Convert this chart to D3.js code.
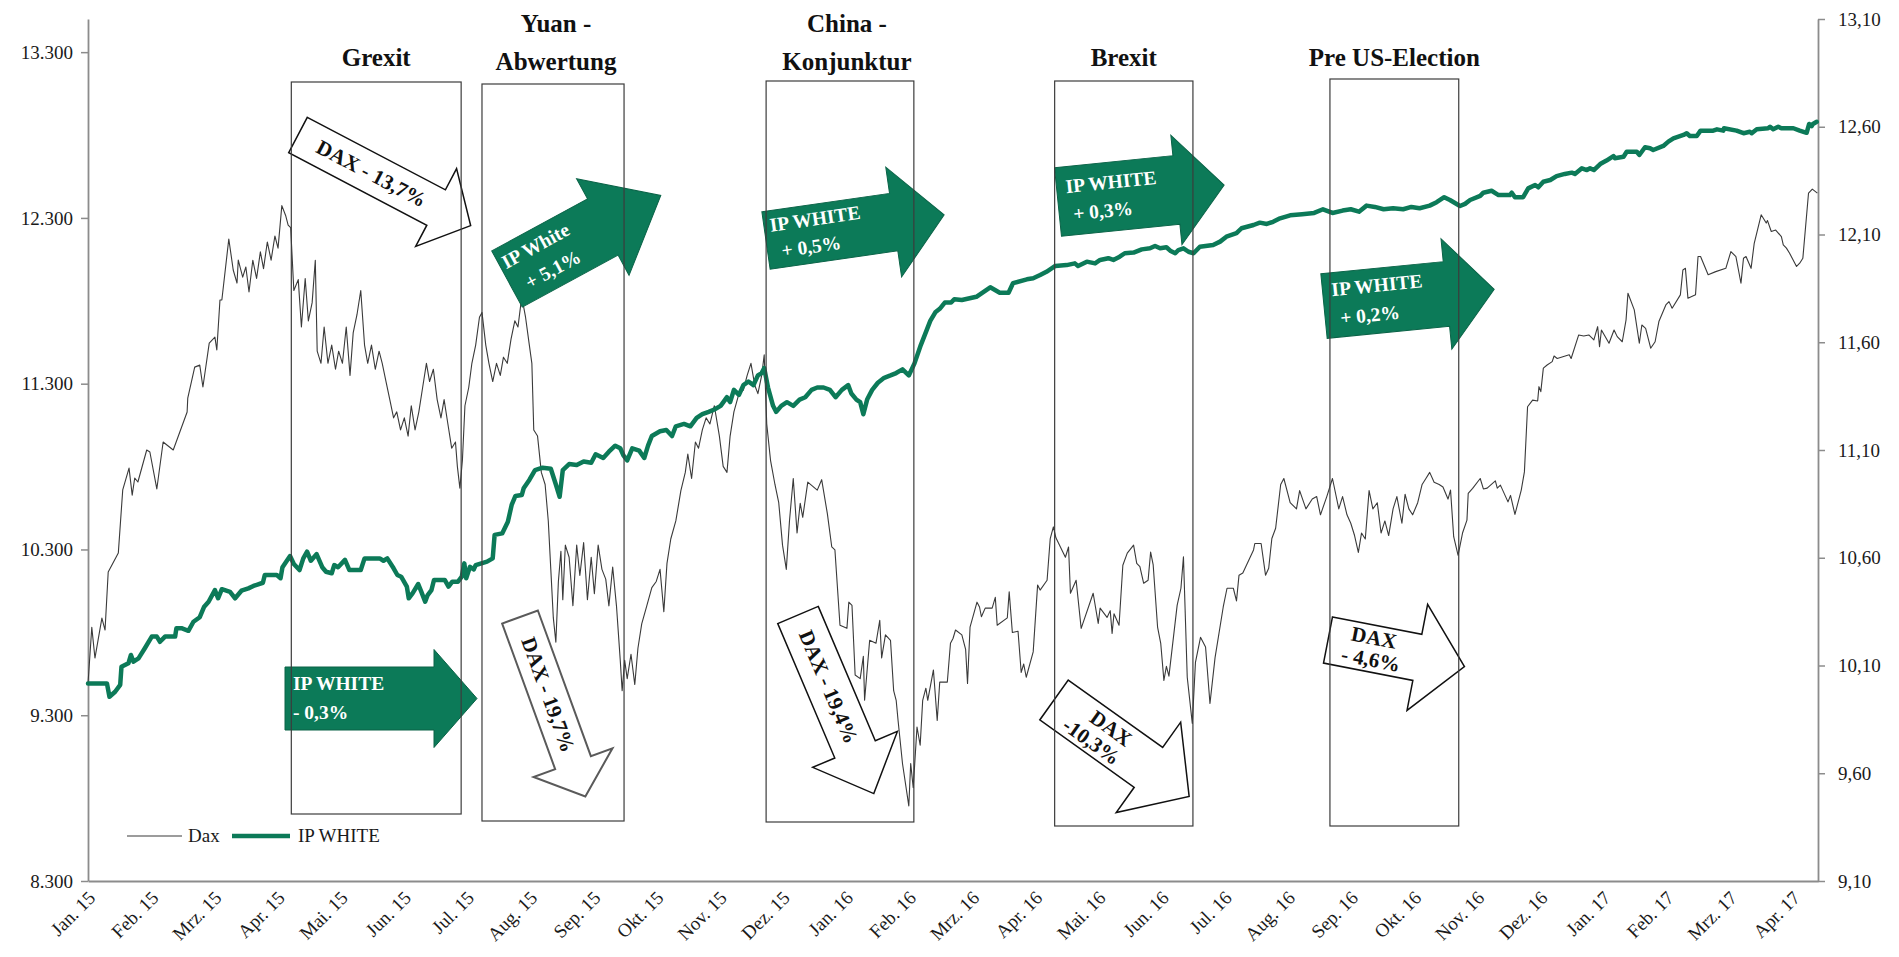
<!DOCTYPE html>
<html><head><meta charset="utf-8">
<script src="https://cdn.jsdelivr.net/npm/d3@7"></script>
<style>
html,body{margin:0;padding:0;background:#fff;}
svg{display:block;font-family:"Liberation Serif","Times New Roman",serif;}
</style>
</head><body>
<svg id="chart" width="1899" height="957"></svg>
<script>
// ---------- DATA ----------
const monthLabels = ["Jan. 15","Feb. 15","Mrz. 15","Apr. 15","Mai. 15","Jun. 15","Jul. 15","Aug. 15","Sep. 15","Okt. 15","Nov. 15","Dez. 15","Jan. 16","Feb. 16","Mrz. 16","Apr. 16","Mai. 16","Jun. 16","Jul. 16","Aug. 16","Sep. 16","Okt. 16","Nov. 16","Dez. 16","Jan. 17","Feb. 17","Mrz. 17","Apr. 17"];
const leftTicks = [8300, 9300, 10300, 11300, 12300, 13300];
const rightTicks = [9.1, 9.6, 10.1, 10.6, 11.1, 11.6, 12.1, 12.6, 13.1];
const seriesNames = ["Dax", "IP WHITE"];

// time in months since 1 Jan 2015 (axis position), DAX points
const daxT = [0.00,0.06,0.11,0.22,0.27,0.32,0.48,0.55,0.65,0.70,0.74,0.79,0.93,0.98,1.09,1.19,1.35,1.57,1.58,1.69,1.77,1.82,1.92,2.01,2.04,2.09,2.12,2.23,2.30,2.36,2.38,2.45,2.50,2.55,2.61,2.67,2.73,2.78,2.84,2.90,2.96,3.01,3.07,3.13,3.17,3.21,3.26,3.33,3.38,3.44,3.49,3.55,3.60,3.63,3.69,3.74,3.80,3.86,3.92,3.97,4.03,4.09,4.15,4.20,4.26,4.32,4.38,4.43,4.49,4.55,4.61,4.66,4.72,4.78,4.84,4.89,4.95,5.01,5.07,5.12,5.18,5.24,5.30,5.36,5.41,5.47,5.53,5.59,5.64,5.70,5.76,5.82,5.85,5.89,5.93,5.97,6.03,6.08,6.14,6.20,6.24,6.30,6.35,6.41,6.47,6.53,6.58,6.64,6.70,6.76,6.81,6.87,6.93,6.99,7.03,7.06,7.12,7.18,7.24,7.29,7.33,7.37,7.41,7.45,7.49,7.52,7.56,7.62,7.68,7.74,7.79,7.85,7.91,7.97,8.02,8.08,8.14,8.20,8.25,8.31,8.37,8.43,8.46,8.50,8.54,8.60,8.66,8.71,8.77,8.85,8.93,9.00,9.06,9.12,9.17,9.23,9.31,9.39,9.46,9.50,9.56,9.62,9.67,9.73,9.79,9.85,9.92,10.00,10.06,10.12,10.17,10.23,10.31,10.38,10.44,10.50,10.56,10.61,10.67,10.71,10.75,10.81,10.88,10.94,11.00,11.06,11.11,11.17,11.23,11.28,11.32,11.40,11.55,11.62,11.71,11.78,11.83,11.91,12.02,12.05,12.10,12.15,12.23,12.28,12.30,12.38,12.48,12.54,12.57,12.63,12.71,12.76,12.80,12.83,12.90,13.00,13.03,13.07,13.13,13.18,13.22,13.27,13.30,13.39,13.45,13.49,13.61,13.66,13.70,13.74,13.84,13.90,13.93,13.97,14.08,14.12,14.15,14.21,14.32,14.37,14.40,14.56,14.59,14.64,14.73,14.78,14.82,14.86,14.97,15.04,15.08,15.19,15.24,15.29,15.33,15.48,15.53,15.56,15.65,15.73,15.92,16.00,16.03,16.14,16.19,16.22,16.25,16.33,16.39,16.46,16.56,16.61,16.66,16.72,16.79,16.83,16.87,16.94,16.99,17.04,17.08,17.12,17.25,17.31,17.35,17.41,17.49,17.54,17.62,17.70,17.77,17.85,17.98,18.04,18.14,18.19,18.23,18.29,18.46,18.48,18.58,18.65,18.70,18.75,18.81,18.89,18.94,19.04,19.14,19.19,19.29,19.39,19.46,19.52,19.62,19.71,19.81,19.87,19.94,20.00,20.06,20.12,20.17,20.23,20.29,20.35,20.42,20.48,20.54,20.60,20.67,20.73,20.81,20.86,20.92,20.98,21.06,21.13,21.19,21.25,21.32,21.40,21.46,21.54,21.58,21.63,21.70,21.77,21.84,21.86,21.93,22.05,22.10,22.16,22.29,22.32,22.37,22.49,22.53,22.60,22.70,22.75,22.80,22.88,22.96,22.98,23.01,23.05,23.11,23.19,23.22,23.27,23.46,23.49,23.61,23.69,23.77,23.85,23.91,23.94,23.97,24.09,24.17,24.22,24.30,24.36,24.39,24.49,24.57,24.61,24.67,24.75,24.82,24.88,24.99,25.04,25.09,25.22,25.26,25.30,25.34,25.46,25.50,25.54,25.66,25.78,25.94,26.02,26.10,26.18,26.22,26.26,26.34,26.39,26.50,26.58,26.60,26.66,26.73,26.82,26.85,26.90,26.95,27.06,27.11,27.16,27.25,27.31,27.39];
const daxV = [9490,9830,9645,9886,9814,10164,10278,10659,10791,10628,10731,10707,10900,10888,10665,10948,10900,11129,11213,11400,11412,11280,11545,11581,11503,11805,11805,12173,11986,11907,12046,11943,12004,11853,12045,11935,12096,11994,12155,12045,12191,12118,12374,12315,12257,12242,11862,11928,11642,11935,11679,11789,12045,11496,11423,11642,11423,11533,11387,11496,11423,11642,11350,11606,11716,11862,11533,11423,11533,11387,11496,11423,11313,11204,11094,11130,11021,11094,10984,11167,11021,11130,11277,11423,11313,11387,11204,11094,11204,11057,10911,10948,10801,10670,10838,11167,11277,11423,11533,11701,11730,11533,11423,11313,11423,11350,11460,11423,11569,11679,11642,11825,11701,11533,11423,11021,10984,10765,10692,10472,10180,9887,9741,10107,10289,9997,10326,10253,9960,10326,10143,10341,9997,10253,10033,10326,10180,10121,9960,10194,9960,9631,9448,9631,9521,9668,9485,9704,9851,9960,10070,10107,10180,9924,10216,10363,10472,10655,10765,10875,10728,10948,10911,11021,11094,11057,11167,10984,10801,10765,10984,11130,11240,11262,11350,11423,11291,11240,11350,11474,11057,10838,10692,10582,10326,10180,10472,10728,10399,10579,10494,10706,10658,10721,10516,10315,10297,9843,9824,9982,9963,9543,9521,9655,9390,9752,9734,9873,9646,9785,9752,9448,9390,9268,9009,8753,9009,8863,9229,9119,9390,9463,9390,9573,9268,9500,9500,9734,9763,9814,9785,9697,9492,9831,9982,9953,9894,9946,9946,10011,9843,9887,10044,9799,9807,9558,9609,9529,9682,10085,10055,10114,10366,10436,10370,10253,10315,10036,10114,9824,10036,9854,9946,9890,9931,9794,9912,9843,10205,10278,10326,10216,10197,10096,10114,10284,10209,9832,9734,9510,9595,9536,9963,10066,10256,9529,9251,9619,9770,9712,9371,9646,9953,10066,10066,9990,10145,10158,10297,10336,10336,10145,10187,10366,10428,10692,10728,10582,10545,10655,10545,10604,10619,10509,10619,10728,10545,10619,10509,10458,10384,10282,10399,10363,10655,10545,10582,10399,10472,10384,10545,10619,10458,10633,10545,10509,10582,10692,10728,10765,10706,10692,10677,10604,10658,10377,10265,10399,10477,10638,10668,10728,10665,10670,10714,10670,10688,10587,10626,10511,10658,10768,11161,11201,11196,11282,11252,11394,11413,11433,11467,11452,11474,11452,11594,11588,11594,11564,11644,11523,11624,11544,11624,11584,11553,11685,11846,11745,11544,11654,11634,11514,11553,11675,11775,11795,11755,11836,11986,11996,11816,11836,12067,12067,11957,11976,11996,12097,12067,11906,12057,12067,11996,12147,12319,12269,12284,12218,12227,12187,12138,12118,12087,12007,12027,12057,12450,12474,12450];

// IP WHITE points (right axis)
const ipT = [0.00,0.30,0.34,0.43,0.51,0.53,0.64,0.68,0.72,0.80,0.90,1.01,1.09,1.14,1.22,1.38,1.40,1.48,1.59,1.67,1.77,1.84,1.91,2.01,2.06,2.12,2.25,2.33,2.43,2.54,2.62,2.77,2.80,2.99,3.05,3.08,3.20,3.26,3.35,3.41,3.47,3.53,3.62,3.71,3.77,3.86,3.90,3.96,4.07,4.14,4.32,4.38,4.62,4.68,4.74,4.84,4.90,4.96,5.05,5.08,5.14,5.23,5.28,5.34,5.38,5.44,5.48,5.65,5.71,5.77,5.86,5.92,5.96,5.99,6.05,6.11,6.14,6.32,6.41,6.44,6.56,6.65,6.71,6.77,6.87,6.90,6.99,7.08,7.20,7.33,7.41,7.47,7.52,7.62,7.74,7.85,7.97,8.04,8.16,8.25,8.35,8.43,8.48,8.54,8.62,8.73,8.81,8.87,8.93,9.06,9.16,9.25,9.31,9.44,9.54,9.64,9.73,9.83,9.92,10.02,10.12,10.17,10.23,10.31,10.38,10.46,10.54,10.61,10.67,10.71,10.77,10.85,10.90,10.98,11.07,11.17,11.27,11.36,11.46,11.55,11.65,11.75,11.84,11.94,12.04,12.09,12.17,12.23,12.28,12.34,12.42,12.51,12.61,12.71,12.80,12.90,13.00,13.09,13.19,13.28,13.34,13.42,13.49,13.57,13.67,13.72,13.84,14.07,14.29,14.44,14.58,14.65,14.87,14.97,15.08,15.18,15.32,15.50,15.63,15.68,15.82,15.95,16.03,16.16,16.24,16.34,16.42,16.56,16.69,16.82,16.90,16.98,17.08,17.14,17.22,17.27,17.35,17.43,17.51,17.61,17.82,17.93,18.03,18.19,18.27,18.46,18.56,18.67,18.77,18.88,19.04,19.23,19.42,19.56,19.71,19.87,20.00,20.13,20.25,20.38,20.52,20.67,20.83,20.96,21.09,21.25,21.36,21.48,21.57,21.73,21.81,21.89,22.05,22.10,22.23,22.34,22.52,22.55,22.60,22.73,22.81,22.92,22.97,23.05,23.16,23.26,23.39,23.50,23.55,23.66,23.74,23.79,23.85,23.95,24.05,24.16,24.18,24.32,24.37,24.53,24.57,24.66,24.74,24.79,24.95,25.03,25.11,25.27,25.32,25.37,25.48,25.54,25.74,25.80,25.90,25.91,26.11,26.22,26.32,26.35,26.43,26.61,26.64,26.69,26.77,26.82,27.01,27.11,27.22,27.26,27.30,27.32,27.38];
const ipV = [10.017,10.017,9.955,9.978,10.010,10.094,10.110,10.149,10.118,10.133,10.180,10.234,10.234,10.210,10.234,10.234,10.273,10.273,10.261,10.303,10.324,10.373,10.396,10.450,10.412,10.454,10.442,10.412,10.447,10.458,10.469,10.484,10.520,10.520,10.505,10.556,10.608,10.571,10.543,10.597,10.628,10.586,10.617,10.556,10.535,10.528,10.566,10.556,10.590,10.543,10.543,10.597,10.597,10.586,10.597,10.551,10.520,10.512,10.466,10.412,10.435,10.478,10.442,10.396,10.427,10.450,10.497,10.497,10.466,10.489,10.489,10.512,10.574,10.505,10.558,10.546,10.566,10.582,10.597,10.706,10.713,10.767,10.845,10.887,10.891,10.922,10.961,11.007,11.018,11.013,10.940,10.883,11.007,11.035,11.030,11.047,11.041,11.080,11.063,11.092,11.120,11.108,11.075,11.052,11.108,11.097,11.063,11.120,11.165,11.187,11.193,11.165,11.210,11.221,11.210,11.249,11.266,11.277,11.288,11.305,11.345,11.322,11.379,11.356,11.401,11.418,11.401,11.446,11.457,11.480,11.390,11.305,11.277,11.305,11.322,11.305,11.334,11.345,11.379,11.390,11.390,11.379,11.345,11.379,11.401,11.362,11.334,11.322,11.266,11.334,11.379,11.412,11.435,11.446,11.457,11.474,11.446,11.502,11.587,11.654,11.699,11.739,11.755,11.784,11.784,11.800,11.796,11.811,11.855,11.830,11.830,11.874,11.892,11.897,11.912,11.927,11.954,11.958,11.966,11.954,11.974,11.966,11.982,11.990,11.982,11.997,12.013,12.016,12.031,12.036,12.047,12.036,12.041,12.025,12.013,12.028,12.036,12.020,12.013,12.043,12.051,12.067,12.090,12.106,12.129,12.144,12.155,12.149,12.159,12.175,12.189,12.194,12.200,12.217,12.200,12.211,12.217,12.206,12.234,12.228,12.217,12.222,12.217,12.228,12.222,12.234,12.250,12.273,12.260,12.232,12.242,12.260,12.279,12.294,12.303,12.283,12.283,12.294,12.273,12.273,12.314,12.330,12.319,12.345,12.353,12.371,12.381,12.387,12.381,12.407,12.399,12.407,12.399,12.427,12.443,12.464,12.454,12.461,12.484,12.484,12.469,12.505,12.500,12.492,12.511,12.531,12.546,12.562,12.570,12.557,12.557,12.582,12.582,12.588,12.582,12.593,12.582,12.570,12.577,12.570,12.588,12.593,12.600,12.588,12.600,12.593,12.593,12.582,12.572,12.613,12.603,12.613,12.623];

// event windows (months since 1 Jan 2015)
const eventNames = [["Grexit"], ["Yuan -", "Abwertung"], ["China -", "Konjunktur"], ["Brexit"], ["Pre US-Election"]];
const eventStart = [3.22, 6.24, 10.74, 15.31, 19.67];
const eventEnd   = [5.91, 8.49, 13.08, 17.50, 21.71];

// arrow annotation texts
const arrowTexts = [["DAX - 13,7%"], ["IP White", "+ 5,1%"], ["IP WHITE", "- 0,3%"], ["DAX - 19,7%"], ["IP WHITE", "+ 0,5%"], ["IP WHITE", "+ 0,3%"], ["IP WHITE", "+ 0,2%"], ["DAX - 19,4%"], ["DAX", "-10,3%"], ["DAX", "- 4,6%"]];

// ---------- LAYOUT / STYLE ----------
const GREEN = "#0c7a58";
const plot = {left: 88, right: 1818, top: 19, bottom: 881};
const boxTop = [82, 84, 81, 81, 79];
const boxBottom = [814, 821, 822, 826, 826];
const titleDx = [0, 3, 7, 0, 0];
// arrow geometry: tail centre (x,y), angle, body length/width, head length/width
const arrowGeom = [
  {x:298, y:135, a:27.7, L:156, w:40, h:39, H:88, kind:"dax"},
  {x:507, y:279, a:-28.5, L:109, w:64, h:66, H:110, kind:"ip", lines:[[4,-9],[15,20]]},
  {x:285, y:698.5, a:0, L:149, w:63, h:43, H:98, kind:"ip", lines:[[8,-8.5],[8,20.5]]},
  {x:520, y:617, a:70, L:155, w:38, h:36, H:84, kind:"dax2"},
  {x:766, y:240.5, a:-8.2, L:129, w:58, h:51, H:111, kind:"ip", lines:[[6,-8],[14,19]]},
  {x:1058, y:202, a:-5.8, L:119, w:69, h:48, H:110, kind:"ip", lines:[[9,-8],[14,20]]},
  {x:1324, y:306, a:-5.6, L:123, w:65, h:48, H:111, kind:"ip", lines:[[9,-9],[15,20]]},
  {x:798, y:615, a:67, L:146, w:44, h:48, H:92, kind:"dax"},
  {x:1054, y:700, a:35.5, L:116, w:49, h:50, H:111, kind:"dax", lines:[[40,-3],[22,19]]},
  {x:1328, y:640, a:11, L:91, w:47, h:48, H:108, kind:"dax", lines:[[22,-4],[16,18]]}
];

// ---------- DRAW ----------
const svg = d3.select("#chart");
const x = d3.scaleLinear().domain([0, 27.4]).range([plot.left, plot.right]);
const yL = d3.scaleLinear().domain([8300, 13500]).range([plot.bottom, plot.top]);
const yR = d3.scaleLinear().domain([9.1, 13.1]).range([plot.bottom, plot.top]);
const de = d3.formatLocale({decimal: ",", thousands: ".", grouping: [3], currency: ["", "€"]});
const fmtL = de.format(",.0f"), fmtR = de.format(".2f");

function styleAxis(g) {
  g.select(".domain").attr("stroke", "#8c8c8c").attr("stroke-width", 1.8);
  g.selectAll(".tick line").attr("stroke", "#8c8c8c").attr("stroke-width", 1.5);
  g.selectAll(".tick text").attr("fill", "#1a1a1a").style("font-size", "19px").style("font-family", "Liberation Serif, serif");
}
const gL = svg.append("g").attr("transform", `translate(${plot.left},0)`)
  .call(d3.axisLeft(yL).tickValues(leftTicks).tickFormat(fmtL).tickSize(7).tickSizeOuter(0).tickPadding(8));
styleAxis(gL);
const gR = svg.append("g").attr("transform", `translate(${plot.right},0)`)
  .call(d3.axisRight(yR).tickValues(rightTicks).tickFormat(fmtR).tickSize(7).tickSizeOuter(0).tickPadding(13));
styleAxis(gR);
const gB = svg.append("g").attr("transform", `translate(0,${plot.bottom})`)
  .call(d3.axisBottom(x).tickValues(d3.range(monthLabels.length)).tickFormat(i => monthLabels[i]).tickSize(0).tickSizeOuter(0));
styleAxis(gB);
gB.selectAll(".tick text").attr("text-anchor", "end").attr("dy", null).attr("y", 0)
  .attr("transform", "translate(8,18) rotate(-45)");

// series
const idxD = d3.range(daxT.length), idxI = d3.range(ipT.length);
svg.append("path").datum(idxD)
  .attr("d", d3.line().x(i => x(daxT[i])).y(i => yL(daxV[i])))
  .attr("fill", "none").attr("stroke", "#3a3a3a").attr("stroke-width", 1.1).attr("stroke-linejoin", "round");
svg.append("path").datum(idxI)
  .attr("d", d3.line().x(i => x(ipT[i])).y(i => yR(ipV[i])))
  .attr("fill", "none").attr("stroke", GREEN).attr("stroke-width", 4.5).attr("stroke-linejoin", "round").attr("stroke-linecap", "round");

// arrows
arrowGeom.forEach((g, k) => {
  const pts = [[0,-g.w/2],[g.L,-g.w/2],[g.L,-g.H/2],[g.L+g.h,0],[g.L,g.H/2],[g.L,g.w/2],[0,g.w/2]];
  const grp = svg.append("g").attr("transform", `translate(${g.x},${g.y}) rotate(${g.a})`);
  const isIP = g.kind === "ip";
  grp.append("path").attr("d", "M" + pts.map(p => p.join(",")).join("L") + "Z")
    .attr("fill", isIP ? GREEN : "#fff")
    .attr("stroke", isIP ? "#0a6347" : (g.kind === "dax2" ? "#5a5a5a" : "#111"))
    .attr("stroke-width", isIP ? 1 : (g.kind === "dax2" ? 2 : 1.5))
    .attr("stroke-linejoin", "miter");
  const txt = arrowTexts[k];
  const fs = isIP ? 19.5 : 21;
  if (g.lines) {
    txt.forEach((t, j) => {
      grp.append("text").attr("x", g.lines[j][0]).attr("y", g.lines[j][1]).text(t)
        .attr("fill", isIP ? "#fff" : "#111").style("font-weight", "bold").style("font-size", fs + "px");
    });
  } else {
    grp.append("text").attr("x", g.L / 2 + 5).attr("y", 7).attr("text-anchor", "middle").text(txt[0])
      .attr("fill", "#111").style("font-weight", "bold").style("font-size", fs + "px");
  }
});

// event boxes and titles
eventNames.forEach((names, k) => {
  const x0 = x(eventStart[k]), x1 = x(eventEnd[k]);
  svg.append("rect").attr("x", x0).attr("y", boxTop[k]).attr("width", x1 - x0).attr("height", boxBottom[k] - boxTop[k])
    .attr("fill", "none").attr("stroke", "#3c3c3c").attr("stroke-width", 1.2);
  const cx = (x0 + x1) / 2 + titleDx[k];
  const base = names.length === 1 ? [66] : [32, 70];
  names.forEach((n, j) => {
    svg.append("text").attr("x", cx).attr("y", base[j]).attr("text-anchor", "middle").text(n)
      .attr("fill", "#111").style("font-weight", "bold").style("font-size", "25px");
  });
});

// legend
const leg = svg.append("g");
leg.append("line").attr("x1", 127).attr("x2", 182).attr("y1", 836).attr("y2", 836).attr("stroke", "#3a3a3a").attr("stroke-width", 1.1);
leg.append("text").attr("x", 188).attr("y", 842).text(seriesNames[0]).attr("fill", "#1a1a1a").style("font-size", "19px");
leg.append("line").attr("x1", 232).attr("x2", 290).attr("y1", 836).attr("y2", 836).attr("stroke", GREEN).attr("stroke-width", 4.5);
leg.append("text").attr("x", 298).attr("y", 842).text(seriesNames[1]).attr("fill", "#1a1a1a").style("font-size", "19px");
</script>
</body></html>
